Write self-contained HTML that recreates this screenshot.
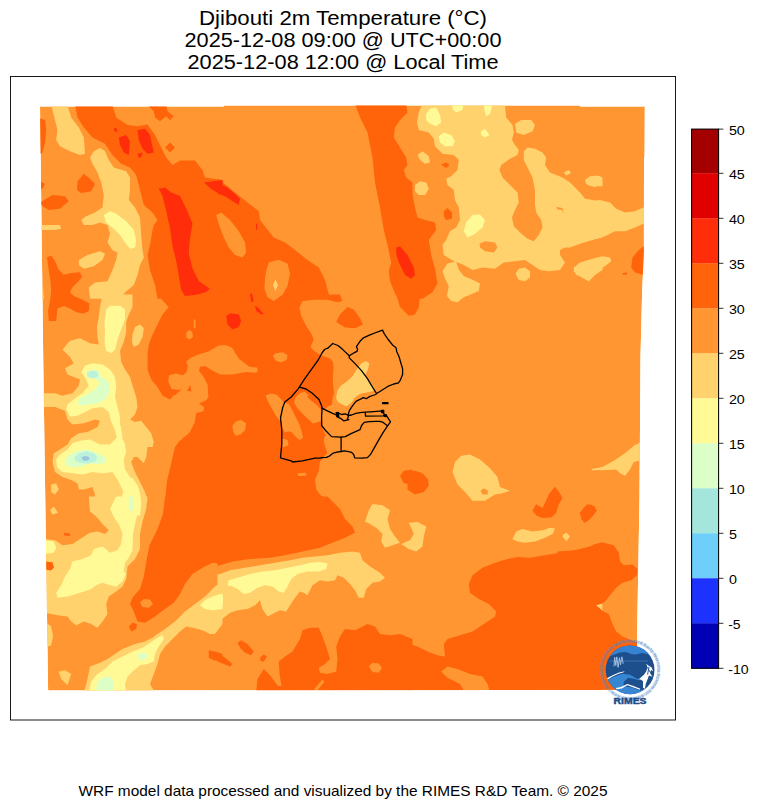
<!DOCTYPE html>
<html><head><meta charset="utf-8"><title>Djibouti 2m Temperature</title>
<style>
html,body{margin:0;padding:0;background:#fff;}
body{width:760px;height:808px;overflow:hidden;font-family:"Liberation Sans",sans-serif;}
svg{display:block;}
.t{font-family:"Liberation Sans",sans-serif;fill:#000;}
</style></head><body>
<svg width="760" height="808" viewBox="0 0 760 808">
<rect width="760" height="808" fill="#fff"/>
<defs><clipPath id="q"><path d="M40.00 106.40 L223.50 106.40 L224.50 105.60 L579.50 105.60 L580.50 106.50 L644.80 106.50 L644.60 157.00 L644.00 158.00 L643.90 250.00 L642.00 297.00 L640.50 356.00 L639.50 499.00 L637.00 640.00 L637.00 689.80 L48.10 690.50 L43.50 380.00Z"/></clipPath></defs>
<g clip-path="url(#q)" shape-rendering="geometricPrecision">
<path d="M40.00 106.40 L223.50 106.40 L224.50 105.60 L579.50 105.60 L580.50 106.50 L644.80 106.50 L644.60 157.00 L644.00 158.00 L643.90 250.00 L642.00 297.00 L640.50 356.00 L639.50 499.00 L637.00 640.00 L637.00 689.80 L48.10 690.50 L43.50 380.00Z" fill="#ff9632"/>
<path d="M75.0 105.0 L112.5 105.0 L116.2 117.5 L127.5 125.0 L137.5 126.2 L147.5 124.5 L155.0 135.0 L160.0 145.0 L166.2 157.5 L172.5 165.0 L180.0 160.5 L195.0 160.5 L202.5 170.0 L205.0 177.5 L222.5 180.0 L222.5 298.8 L157.5 298.8 L155.0 285.0 L150.0 270.0 L147.5 255.0 L150.0 245.0 L152.5 230.0 L153.8 225.0 L157.5 220.0 L152.5 212.5 L143.8 205.0 L140.0 190.0 L136.2 175.0 L130.0 167.5 L121.2 163.8 L112.5 155.0 L105.0 143.8 L92.5 137.5 L83.8 127.5 L77.5 117.5Z" fill="#ff640a"/>
<path d="M147.5 105.0 L166.2 105.0 L167.5 111.2 L173.8 116.2 L170.0 120.0 L166.2 116.2 L160.0 121.2 L155.0 117.5 L153.8 111.2Z" fill="#ff640a"/>
<path d="M165.0 147.5 L170.0 142.5 L175.0 147.5 L170.0 152.5Z" fill="#ff640a"/>
<path d="M37.5 117.5 L45.0 120.0 L46.2 130.0 L45.0 142.5 L42.5 152.5 L37.5 156.2Z" fill="#ff640a"/>
<path d="M77.5 181.2 L83.8 173.8 L90.0 178.8 L95.0 183.8 L91.2 191.2 L81.2 193.0 L77.0 190.0Z" fill="#ff640a"/>
<path d="M40.0 202.5 L52.5 195.0 L65.0 196.2 L68.8 201.2 L60.0 208.8 L48.8 210.0 L42.5 206.2Z" fill="#ff640a"/>
<path d="M40.0 181.2 L45.0 183.8 L42.5 188.8 L40.0 188.8Z" fill="#ff640a"/>
<path d="M47.0 257.2 L51.2 255.5 L55.0 261.0 L58.8 269.8 L63.8 274.8 L71.2 273.0 L80.0 272.2 L82.0 277.2 L77.5 282.2 L72.5 287.2 L70.0 292.2 L73.8 296.0 L82.5 299.8 L89.5 303.5 L88.8 311.0 L83.8 313.5 L76.2 312.2 L70.0 308.5 L63.8 306.0 L57.5 308.5 L56.2 321.0 L48.8 321.0 L48.0 311.0 L50.0 301.0 L51.2 291.0 L50.5 281.0 L48.8 271.0Z" fill="#ff640a"/>
<path d="M217.5 178.8 L220.0 180.0 L235.0 192.5 L247.5 202.5 L258.8 211.2 L260.0 220.0 L273.8 237.5 L285.0 242.5 L295.0 250.0 L307.5 260.0 L318.8 267.5 L325.0 280.0 L330.0 298.8 L217.5 298.8Z" fill="#ff640a"/>
<path d="M355.0 103.8 L406.2 103.8 L407.5 112.5 L400.0 120.0 L395.0 127.5 L393.8 137.5 L400.0 147.5 L406.2 157.5 L407.5 165.0 L403.8 170.0 L406.2 177.5 L412.5 182.5 L412.5 298.8 L398.8 298.8 L395.0 293.5 L390.0 281.0 L388.8 271.0 L391.2 262.5 L387.5 245.0 L383.8 230.0 L380.0 207.5 L375.0 182.5 L372.5 157.5 L367.5 132.5 L360.0 117.5Z" fill="#ff640a"/>
<path d="M407.5 182.5 L410.0 183.8 L412.5 195.0 L415.0 207.5 L417.5 217.5 L425.0 220.0 L435.0 222.5 L436.2 230.0 L428.8 240.0 L431.2 255.0 L435.0 268.5 L437.5 283.5 L432.5 292.2 L422.5 298.8 L407.5 298.8Z" fill="#ff640a"/>
<path d="M441.2 164.5 L446.2 162.5 L449.5 165.0 L446.2 168.0Z" fill="#ff640a"/>
<path d="M443.8 211.2 L447.5 208.0 L452.0 212.5 L452.0 218.8 L446.2 220.0 L443.8 216.2Z" fill="#ff640a"/>
<path d="M646.2 245.0 L643.8 246.2 L638.8 250.0 L632.5 257.5 L631.2 267.5 L635.0 272.5 L643.8 275.0 L646.2 275.0Z" fill="#ff640a"/>
<path d="M622.5 273.0 L627.0 272.5 L627.0 274.5 L623.0 274.8Z" fill="#ff640a"/>
<path d="M157.5 294.5 L166.2 304.5 L168.8 307.0 L162.5 314.5 L157.5 324.5 L152.5 334.5 L148.8 344.5 L147.5 354.5 L147.5 369.5 L151.2 379.5 L157.5 387.0 L162.5 395.8 L170.0 399.5 L174.2 395.0 L196.4 412.1 L194.7 422.4 L189.6 432.6 L179.3 441.2 L175.0 447.0 L171.2 463.2 L167.0 480.8 L165.0 500.8 L222.5 500.8 L222.5 294.5Z" fill="#ff640a"/>
<path d="M217.5 294.5 L340.0 294.5 L342.5 301.0 L337.5 302.2 L327.5 299.8 L315.0 299.8 L302.5 301.0 L299.5 307.2 L301.2 316.0 L306.2 326.0 L311.2 333.5 L313.8 339.5 L311.0 345.8 L311.0 347.4 L313.8 350.6 L317.4 353.0 L322.1 356.1 L326.1 356.9 L330.0 358.5 L332.8 361.7 L333.6 366.4 L333.2 372.8 L332.8 379.1 L333.2 385.4 L334.0 394.0 L332.7 397.5 L331.8 404.9 L327.2 406.7 L325.4 408.6 L323.5 412.3 L322.6 419.6 L322.6 428.9 L325.4 435.3 L323.5 439.9 L325.4 447.3 L327.2 452.8 L323.5 457.5 L319.8 462.1 L318.9 470.4 L315.0 479.5 L316.2 489.5 L321.2 495.8 L330.0 500.8 L217.5 500.8Z" fill="#ff640a"/>
<path d="M336.2 322.0 L340.0 314.5 L347.5 307.0 L353.8 309.5 L360.0 318.2 L363.0 324.5 L355.0 328.2 L345.0 327.5Z" fill="#ff640a"/>
<path d="M396.2 294.5 L400.0 307.0 L406.2 313.2 L412.5 315.8 L412.5 294.5Z" fill="#ff640a"/>
<path d="M400.0 475.8 L403.8 470.8 L412.5 469.5 L412.5 484.5 L403.8 483.2Z" fill="#ff640a"/>
<path d="M407.5 294.5 L420.0 294.5 L418.8 307.0 L415.0 314.5 L407.5 315.8Z" fill="#ff640a"/>
<path d="M407.5 472.0 L415.0 470.8 L422.5 473.2 L428.0 479.5 L428.8 485.8 L423.8 492.0 L415.0 494.5 L407.5 489.5Z" fill="#ff640a"/>
<path d="M532.5 510.5 L536.2 504.2 L542.5 508.0 L546.2 500.5 L548.8 494.2 L555.0 486.8 L558.8 491.8 L562.5 498.0 L558.8 504.2 L556.2 513.0 L551.2 517.5 L542.5 518.0 L536.2 515.5Z" fill="#ff640a"/>
<path d="M165.0 496.5 L163.0 514.0 L157.0 530.2 L149.5 545.2 L146.5 560.2 L143.8 576.5 L140.0 589.0 L132.5 597.8 L130.0 604.0 L133.8 611.5 L137.5 621.5 L145.0 622.8 L155.0 616.5 L165.0 609.0 L173.8 602.8 L180.0 594.0 L185.0 584.0 L192.5 574.0 L202.5 567.8 L212.5 562.8 L222.5 564.5 L222.5 496.5Z" fill="#ff640a"/>
<path d="M128.8 626.5 L132.5 622.8 L137.0 624.0 L136.2 629.0 L131.2 631.5Z" fill="#ff640a"/>
<path d="M63.8 532.8 L70.0 533.5 L70.0 536.0 L64.5 535.5Z" fill="#ff640a"/>
<path d="M208.8 650.2 L215.0 651.5 L222.5 654.0 L222.5 661.5 L213.8 660.2 L208.8 657.8Z" fill="#ff640a"/>
<path d="M217.5 566.0 L220.0 565.2 L232.5 561.5 L250.0 559.0 L270.0 557.8 L285.0 555.2 L302.5 551.5 L320.0 547.8 L332.5 542.8 L345.0 537.8 L355.0 532.8 L352.5 526.5 L345.0 519.0 L340.0 509.0 L332.5 501.5 L327.5 496.5 L217.5 496.5Z" fill="#ff640a"/>
<path d="M256.2 691.5 L257.5 679.0 L263.8 669.0 L270.0 675.2 L278.0 686.0 L281.5 686.0 L279.5 674.0 L278.8 661.5 L285.0 656.5 L292.5 651.5 L300.0 639.0 L302.5 630.2 L310.0 627.8 L318.8 627.8 L322.5 636.5 L326.2 646.5 L330.0 659.0 L325.0 664.0 L318.8 667.8 L320.0 672.8 L327.5 674.0 L336.2 671.5 L337.5 659.0 L336.2 646.5 L340.0 636.5 L345.0 629.0 L355.0 630.2 L362.5 626.5 L367.5 624.0 L375.0 626.5 L380.0 634.0 L390.0 635.2 L400.0 634.0 L412.5 639.0 L412.5 691.5Z" fill="#ff640a"/>
<path d="M237.5 642.8 L241.2 640.2 L247.5 644.0 L253.8 651.5 L251.2 655.2 L245.0 652.8 L240.0 647.8Z" fill="#ff640a"/>
<path d="M260.0 657.8 L263.8 654.5 L267.0 656.5 L263.8 661.5 L260.5 661.0Z" fill="#ff640a"/>
<path d="M217.5 652.8 L220.0 654.0 L225.0 657.8 L232.5 664.0 L230.0 666.5 L223.8 664.0 L217.5 661.5Z" fill="#ff640a"/>
<path d="M580.0 512.8 L587.5 504.0 L595.0 506.5 L596.2 511.5 L590.0 519.0 L583.8 522.8Z" fill="#ff640a"/>
<path d="M602.5 542.0 L590.0 546.5 L575.0 550.2 L560.0 552.8 L545.0 555.2 L530.0 557.8 L517.5 557.0 L507.5 559.0 L495.0 562.8 L482.5 567.8 L472.5 575.2 L468.8 584.0 L470.0 592.8 L478.8 599.0 L488.8 604.0 L496.2 611.5 L495.0 616.5 L487.5 621.5 L480.0 626.5 L472.5 631.5 L460.0 635.2 L447.5 639.0 L443.8 644.0 L445.0 656.5 L437.5 655.2 L427.5 651.5 L417.5 646.5 L407.5 643.5 L407.5 692.8 L602.5 692.8Z" fill="#ff640a"/>
<path d="M557.5 551.5 L575.0 550.2 L587.5 547.8 L595.0 544.0 L603.8 542.8 L613.8 545.2 L618.8 552.8 L620.0 561.5 L623.8 565.2 L632.5 564.5 L637.5 569.0 L637.0 575.2 L631.2 580.2 L622.5 582.8 L616.2 587.8 L610.0 595.2 L605.0 601.5 L597.5 605.2 L595.0 607.8 L601.2 610.2 L608.8 614.0 L612.5 624.0 L616.2 631.5 L622.5 636.5 L631.2 640.2 L642.5 644.0 L642.5 692.8 L557.5 692.8Z" fill="#ff640a"/>
<path d="M580.0 512.8 L585.0 506.5 L591.2 504.5 L597.0 510.2 L591.2 517.8 L585.0 522.8 L581.2 519.0Z" fill="#ff640a"/>
<path d="M118.8 137.5 L126.2 135.0 L130.0 141.2 L128.8 155.0 L123.8 152.5 L120.0 145.0Z" fill="#ff2d0a"/>
<path d="M137.5 130.0 L145.0 128.8 L150.0 135.0 L153.8 152.5 L147.5 153.8 L142.5 148.8 L138.8 140.0Z" fill="#ff2d0a"/>
<path d="M137.5 153.8 L142.5 152.5 L141.2 157.5 L138.8 157.5Z" fill="#ff2d0a"/>
<path d="M113.8 128.8 L116.2 127.5 L117.5 131.2 L115.0 132.0Z" fill="#ff2d0a"/>
<path d="M158.8 188.8 L165.0 187.5 L171.2 192.5 L180.0 196.0 L186.2 208.5 L192.5 223.5 L190.0 238.5 L188.8 253.5 L192.5 268.5 L198.8 281.0 L210.0 289.0 L205.0 292.5 L195.0 295.0 L185.0 296.0 L181.2 289.8 L178.8 276.0 L176.2 261.0 L172.5 246.0 L170.0 228.5 L166.2 211.0 L162.5 196.0Z" fill="#ff2d0a"/>
<path d="M203.8 182.5 L222.5 180.0 L222.5 195.0 L212.5 190.0Z" fill="#ff2d0a"/>
<path d="M217.5 182.5 L220.0 183.8 L227.5 187.5 L235.0 193.8 L240.0 198.8 L238.8 205.0 L232.5 201.2 L225.0 196.2 L217.5 193.8Z" fill="#ff2d0a"/>
<path d="M256.0 223.8 L257.2 223.8 L257.2 230.0 L256.0 230.0Z" fill="#ff2d0a"/>
<path d="M396.2 247.5 L400.0 246.2 L407.5 255.0 L413.8 267.5 L415.0 275.0 L411.2 278.8 L405.0 275.0 L398.8 262.5 L396.2 253.8Z" fill="#ff2d0a"/>
<path d="M226.2 315.8 L231.2 313.2 L238.8 314.5 L241.2 320.8 L238.8 327.0 L232.5 329.5 L227.5 324.5Z" fill="#ff2d0a"/>
<path d="M250.0 294.0 L252.0 293.5 L253.8 301.0 L251.2 302.2Z" fill="#ff2d0a"/>
<path d="M255.0 305.8 L257.5 307.0 L263.8 314.0 L261.2 314.5 L256.2 310.8Z" fill="#ff2d0a"/>
<path d="M216.2 215.0 L221.2 212.5 L230.0 220.0 L238.8 231.2 L245.0 242.5 L246.2 252.5 L242.5 257.5 L235.0 255.0 L228.8 247.5 L223.8 237.5 L220.0 227.5 L217.5 220.0Z" fill="#ff9632"/>
<path d="M266.2 271.0 L268.8 262.2 L278.8 259.8 L287.5 263.5 L290.0 273.5 L287.5 286.0 L282.5 294.8 L273.8 301.0 L267.5 297.2 L264.5 288.5 L265.0 278.5Z" fill="#ff9632"/>
<path d="M168.2 381.3 L169.1 375.3 L175.9 373.6 L182.8 375.3 L186.2 372.8 L187.9 366.8 L186.2 361.6 L191.3 357.4 L199.9 353.9 L208.4 351.4 L218.7 345.4 L225.5 345.1 L232.4 348.0 L235.8 353.9 L239.2 359.1 L249.5 366.8 L257.2 367.6 L257.7 371.1 L256.3 372.8 L246.1 371.9 L232.4 374.5 L220.4 374.5 L211.8 370.2 L205.0 365.9 L199.9 366.8 L199.0 371.1 L203.3 376.2 L207.6 384.7 L208.4 396.7 L206.7 400.1 L199.0 403.6 L204.1 407.0 L203.3 411.3 L196.4 413.0 L174.2 395.9 L181.9 389.0 L179.3 389.9 L171.6 389.0Z" fill="#ff9632"/>
<path d="M186.2 333.4 L188.8 330.0 L192.2 331.7 L193.0 336.8 L189.6 339.4 L186.5 337.7Z" fill="#ff9632"/>
<path d="M193.8 319.5 L195.5 319.5 L195.5 328.2 L193.8 328.2Z" fill="#ff9632"/>
<path d="M232.4 425.8 L235.8 421.5 L240.9 419.8 L246.1 423.2 L245.2 430.1 L240.9 434.3 L235.8 436.1 L233.2 431.8Z" fill="#ff9632"/>
<path d="M272.8 356.0 L275.5 353.2 L282.9 352.3 L287.5 355.1 L286.6 359.7 L281.1 362.4 L275.5 360.6Z" fill="#ff9632"/>
<path d="M294.1 402.5 L295.3 397.8 L300.0 393.3 L304.8 391.8 L308.6 395.2 L307.1 396.8 L310.9 400.4 L316.8 405.1 L320.9 409.4 L324.9 410.6 L324.9 420.3 L319.0 421.7 L313.1 423.4 L308.3 419.3 L302.4 413.4 L297.2 408.0Z" fill="#ff9632"/>
<path d="M265.7 395.4 L270.4 393.6 L276.3 394.5 L280.5 398.4 L284.0 402.5 L288.8 403.7 L292.0 409.6 L295.5 416.7 L299.1 423.8 L301.9 432.1 L303.1 438.1 L299.5 440.0 L296.0 437.1 L292.0 432.4 L288.4 431.2 L284.9 432.4 L282.3 428.0 L280.8 419.7 L279.3 420.3 L275.1 414.4 L270.4 406.1 L266.8 399.0Z" fill="#ff9632"/>
<path d="M281.4 438.1 L287.5 439.9 L288.5 445.5 L282.9 447.3 L281.1 445.5Z" fill="#ff9632"/>
<path d="M297.5 473.2 L306.2 472.8 L306.2 475.8 L298.0 476.0Z" fill="#ff9632"/>
<path d="M140.0 602.8 L143.8 599.0 L150.0 599.5 L153.0 604.0 L148.8 607.8 L142.5 607.0Z" fill="#ff9632"/>
<path d="M368.8 666.5 L372.5 662.8 L378.8 663.5 L382.0 667.8 L378.8 672.8 L372.5 672.0Z" fill="#ff9632"/>
<path d="M313.8 689.5 L322.5 679.5 L324.5 681.5 L317.5 690.2Z" fill="#ff9632"/>
<path d="M441.2 671.5 L447.5 666.5 L457.5 669.0 L470.0 674.0 L482.5 676.5 L487.5 684.0 L490.0 692.8 L465.0 692.8 L460.0 684.0 L447.5 677.8Z" fill="#ff9632"/>
<path d="M51.2 105.0 L67.5 105.0 L71.2 117.5 L78.8 127.5 L83.8 137.5 L85.0 153.8 L80.0 155.0 L70.0 151.2 L60.0 146.2 L56.2 140.0 L57.5 130.0 L55.0 120.0Z" fill="#ffd26e"/>
<path d="M90.0 157.5 L93.8 151.2 L100.0 148.0 L105.0 151.2 L108.8 160.0 L113.8 167.5 L126.2 171.2 L130.0 177.5 L130.0 190.0 L128.8 200.0 L135.0 207.5 L140.0 217.5 L141.2 235.0 L142.5 250.0 L143.8 257.5 L140.0 265.0 L137.5 275.0 L133.8 285.0 L125.0 292.5 L120.0 298.8 L90.0 298.8 L88.8 287.5 L95.0 282.5 L107.5 281.2 L112.5 270.0 L116.2 260.0 L117.5 252.5 L112.5 250.0 L107.5 242.5 L110.0 233.8 L107.5 225.0 L100.0 222.5 L92.5 225.0 L83.8 225.0 L81.2 220.0 L86.2 216.2 L95.0 212.5 L102.5 207.5 L103.8 195.0 L101.2 182.5 L97.5 172.5 L92.5 163.8Z" fill="#ffd26e"/>
<path d="M78.8 260.0 L87.5 255.0 L100.0 251.2 L105.0 253.8 L102.5 260.0 L93.8 266.2 L83.8 268.8 L78.8 265.0Z" fill="#ffd26e"/>
<path d="M40.0 225.0 L60.0 225.0 L61.2 228.8 L55.0 230.0 L40.0 230.0Z" fill="#ffd26e"/>
<path d="M37.5 285.0 L43.0 286.2 L43.8 298.8 L37.5 298.8Z" fill="#ffd26e"/>
<path d="M273.0 285.0 L275.5 279.5 L278.0 285.0 L275.5 291.2Z" fill="#ffd26e"/>
<path d="M422.5 103.8 L505.0 103.8 L505.0 105.8 L506.2 117.5 L512.5 125.0 L513.8 132.5 L512.0 140.0 L515.0 145.0 L518.8 150.0 L517.5 155.0 L510.0 158.8 L501.2 165.0 L499.5 170.0 L502.5 177.5 L510.0 185.0 L517.5 192.5 L518.8 202.5 L515.0 210.0 L512.0 217.5 L513.8 226.2 L520.0 232.5 L527.5 238.8 L533.8 241.2 L538.8 235.0 L542.5 227.5 L541.2 220.0 L536.2 212.5 L535.0 205.0 L535.0 190.0 L532.5 177.5 L527.5 167.5 L523.8 160.0 L523.8 151.2 L527.5 147.5 L535.0 148.8 L542.5 152.5 L546.2 157.5 L545.0 165.0 L550.0 172.5 L562.5 177.5 L570.0 182.5 L575.0 187.5 L580.0 192.5 L585.0 198.8 L592.5 200.0 L602.5 202.5 L602.5 237.5 L590.0 240.0 L580.0 241.2 L570.0 245.0 L560.0 250.0 L560.0 255.0 L565.0 262.5 L560.0 270.0 L548.8 271.2 L540.0 270.0 L532.5 265.0 L525.0 260.0 L515.0 261.2 L503.8 262.5 L495.0 268.8 L482.5 267.5 L472.5 270.0 L463.8 265.0 L457.5 262.5 L453.8 261.2 L443.8 255.0 L442.5 245.0 L446.2 240.0 L450.0 231.2 L456.2 227.5 L460.0 220.0 L458.8 207.5 L455.0 200.0 L453.8 190.0 L447.5 185.0 L446.2 178.8 L451.2 176.2 L457.5 170.0 L458.8 160.0 L453.8 155.0 L442.5 153.8 L435.0 146.2 L433.8 138.8 L428.8 132.5 L418.8 130.0 L417.0 122.5 L418.8 112.5Z" fill="#ffd26e"/>
<path d="M515.0 123.8 L521.2 120.0 L531.2 120.0 L535.0 125.0 L532.5 131.2 L523.8 135.0 L516.2 132.5Z" fill="#ffd26e"/>
<path d="M563.8 172.5 L568.8 170.0 L571.2 173.0 L566.2 175.5Z" fill="#ffd26e"/>
<path d="M585.0 180.0 L592.5 176.2 L600.0 176.2 L602.5 177.5 L602.5 186.2 L592.5 186.2 L586.2 183.8Z" fill="#ffd26e"/>
<path d="M417.5 155.0 L422.5 151.2 L428.8 156.2 L430.0 162.5 L425.0 163.8 L420.0 160.0Z" fill="#ffd26e"/>
<path d="M415.0 185.0 L420.0 181.2 L426.2 182.5 L428.8 188.8 L425.0 195.0 L418.8 195.0 L415.0 191.2Z" fill="#ffd26e"/>
<path d="M442.5 271.0 L447.5 263.5 L456.2 261.5 L458.8 269.8 L463.8 276.0 L472.5 279.8 L480.0 283.5 L478.8 291.0 L470.0 294.8 L463.8 297.2 L457.5 302.2 L451.2 301.0 L447.0 296.0 L448.8 286.0 L445.0 278.5Z" fill="#ffd26e"/>
<path d="M573.8 270.0 L580.0 263.8 L590.0 260.0 L600.0 257.5 L602.5 257.5 L602.5 270.0 L595.0 275.0 L588.8 281.2 L582.5 276.2 L576.2 275.0Z" fill="#ffd26e"/>
<path d="M515.5 273.8 L518.8 268.8 L525.0 267.5 L530.0 271.2 L530.0 277.5 L525.0 281.2 L518.8 280.0Z" fill="#ffd26e"/>
<path d="M557.5 180.0 L565.0 182.5 L572.5 185.0 L577.5 191.2 L582.5 198.8 L590.0 201.2 L600.0 200.0 L610.0 202.5 L616.2 208.8 L625.0 212.5 L635.0 211.2 L646.2 206.2 L646.2 222.5 L635.0 227.5 L625.0 231.2 L615.0 231.2 L605.0 236.2 L592.5 240.0 L580.0 243.8 L570.0 247.5 L557.5 247.5Z" fill="#ffd26e"/>
<path d="M585.0 180.0 L590.0 176.2 L597.5 175.5 L602.0 178.8 L601.2 183.8 L595.0 187.0 L587.5 185.0Z" fill="#ffd26e"/>
<path d="M573.8 267.5 L580.0 262.5 L592.5 258.8 L602.5 256.2 L610.0 257.5 L611.2 261.2 L605.0 266.2 L597.5 270.0 L592.5 276.2 L588.8 281.2 L583.8 278.8 L577.5 275.0 L573.8 271.2Z" fill="#ffd26e"/>
<path d="M187.0 390.7 L190.5 384.7 L191.3 391.6Z" fill="#ff640a"/>
<path d="M102.5 294.5 L100.0 307.0 L98.8 317.0 L97.0 327.0 L97.5 337.0 L98.8 344.5 L90.0 343.2 L80.0 338.2 L70.0 340.8 L62.5 349.5 L70.0 357.0 L73.8 363.2 L65.0 368.2 L67.5 374.5 L80.0 379.5 L78.8 385.8 L72.5 393.2 L62.5 395.8 L55.0 393.2 L40.0 393.2 L40.0 407.0 L55.0 407.0 L65.0 410.8 L67.5 419.5 L72.5 424.5 L83.8 423.2 L95.0 419.5 L100.0 420.8 L97.5 427.0 L87.5 432.0 L78.8 433.2 L71.2 438.2 L67.5 444.5 L60.0 449.5 L53.8 453.2 L52.5 462.0 L55.0 472.0 L62.5 477.0 L70.0 479.5 L77.5 483.2 L78.8 489.5 L83.8 489.5 L92.5 487.0 L95.0 494.5 L93.8 500.8 L147.5 500.8 L145.0 492.0 L140.0 482.0 L135.0 472.0 L131.2 462.0 L133.8 457.0 L137.5 457.0 L143.8 463.2 L146.2 457.0 L147.5 447.0 L152.5 447.0 L153.8 442.0 L151.2 433.2 L146.2 427.0 L141.2 420.8 L135.0 422.0 L130.0 419.5 L135.0 414.5 L137.5 407.0 L136.2 397.0 L132.5 385.8 L130.0 377.0 L125.0 369.5 L121.2 362.0 L120.0 350.8 L123.8 342.0 L126.2 332.0 L126.2 322.0 L128.8 314.5 L132.5 307.0 L132.5 294.5Z" fill="#ffd26e"/>
<path d="M132.5 334.5 L135.0 327.0 L140.0 324.5 L143.8 328.2 L142.5 337.0 L138.8 344.5 L133.8 347.0 L132.0 342.0Z" fill="#ffd26e"/>
<path d="M51.2 484.5 L56.2 483.2 L58.8 489.5 L55.0 494.5 L51.2 492.0Z" fill="#ffd26e"/>
<path d="M336.1 397.5 L337.3 391.0 L341.0 385.5 L347.5 380.9 L353.0 375.4 L357.6 368.0 L361.3 363.4 L365.9 361.0 L369.3 363.4 L367.8 369.8 L365.0 375.4 L369.6 380.9 L374.2 387.3 L373.3 391.0 L367.8 392.3 L360.4 393.8 L354.9 397.5 L351.2 403.0 L346.6 406.3 L341.0 403.9 L337.3 401.2Z" fill="#ffd26e"/>
<path d="M452.5 472.0 L455.0 462.0 L461.2 455.8 L470.0 454.5 L480.0 459.5 L490.0 468.2 L497.5 477.0 L500.0 487.0 L510.0 490.8 L502.5 493.2 L495.0 494.5 L485.0 500.8 L472.5 500.8 L465.0 492.0 L457.5 484.5Z" fill="#ffd26e"/>
<path d="M591.2 469.0 L602.5 467.5 L602.5 470.0 L592.5 470.2Z" fill="#ffd26e"/>
<path d="M591.2 469.5 L602.5 467.0 L613.8 460.8 L625.0 453.2 L633.8 445.8 L643.8 440.8 L643.8 459.5 L633.8 462.0 L630.0 469.5 L625.0 475.8 L620.0 473.2 L616.2 469.5 L602.5 470.2Z" fill="#ffd26e"/>
<path d="M88.8 496.5 L147.5 496.5 L146.2 509.0 L142.5 521.5 L140.0 534.0 L140.0 549.0 L135.0 559.0 L127.5 566.5 L126.2 579.0 L122.5 586.5 L116.2 591.5 L108.8 596.5 L106.2 604.0 L107.5 614.0 L102.5 621.5 L97.5 627.8 L91.2 624.0 L83.8 621.5 L76.2 625.2 L71.2 621.5 L67.5 616.5 L57.5 615.2 L45.0 612.8 L45.0 539.0 L55.0 540.2 L62.5 545.2 L72.5 544.0 L80.0 539.0 L90.0 532.8 L97.5 531.5 L105.0 534.0 L108.8 530.2 L102.5 524.0 L96.2 516.5 L90.0 511.5Z" fill="#ffd26e"/>
<path d="M83.8 692.8 L87.5 679.0 L90.0 666.5 L100.0 662.8 L107.5 659.0 L115.0 654.0 L122.5 649.0 L135.0 644.0 L145.0 641.5 L152.5 637.8 L157.5 634.0 L165.0 629.0 L175.0 621.5 L185.0 611.5 L195.0 604.0 L205.0 596.5 L215.0 586.5 L222.5 581.5 L222.5 624.0 L215.0 634.0 L210.0 634.0 L202.5 630.2 L192.5 627.8 L186.2 626.5 L180.0 631.5 L172.5 639.0 L165.0 646.5 L160.0 654.0 L157.5 664.0 L153.8 674.0 L150.0 684.0 L155.0 692.8Z" fill="#ffd26e"/>
<path d="M45.0 621.5 L51.2 626.5 L53.0 636.5 L51.2 645.2 L45.0 647.8Z" fill="#ffd26e"/>
<path d="M58.8 671.5 L65.0 670.2 L71.2 674.0 L67.5 685.2 L61.2 679.0Z" fill="#ffd26e"/>
<path d="M50.0 510.2 L53.8 506.5 L58.0 512.8 L52.5 514.5Z" fill="#ffd26e"/>
<path d="M217.5 574.5 L220.0 574.0 L230.0 570.2 L245.0 567.8 L260.0 565.2 L275.0 562.8 L290.0 560.2 L302.5 557.8 L315.0 556.5 L327.5 555.2 L340.0 552.8 L352.5 551.5 L360.0 552.8 L362.5 560.2 L370.0 566.5 L380.0 572.8 L385.0 577.8 L380.0 581.5 L372.5 582.8 L366.2 589.0 L363.8 597.8 L358.8 597.8 L355.0 590.2 L350.0 584.0 L343.8 577.8 L337.5 575.2 L335.0 580.2 L327.5 581.5 L320.0 580.2 L312.5 585.2 L307.5 595.2 L303.8 592.8 L300.0 591.5 L295.0 597.8 L290.0 605.2 L286.2 611.5 L280.0 610.2 L272.5 614.0 L267.5 616.5 L262.5 609.0 L260.0 600.2 L255.0 605.2 L247.5 609.0 L237.5 610.2 L230.0 612.8 L223.8 617.8 L217.5 622.0Z" fill="#ffd26e"/>
<path d="M365.0 521.5 L368.8 510.2 L372.5 504.0 L382.5 505.2 L390.0 510.2 L387.5 519.0 L390.0 529.0 L395.0 536.5 L400.0 542.8 L392.5 545.2 L385.0 547.8 L381.2 541.5 L382.5 534.0 L376.2 527.8 L370.0 524.0Z" fill="#ffd26e"/>
<path d="M596.2 605.2 L602.5 603.5 L602.5 610.8Z" fill="#ffd26e"/>
<path d="M512.5 539.0 L516.2 531.5 L522.5 529.0 L532.5 531.5 L542.5 530.2 L550.0 527.8 L555.0 528.5 L552.5 534.0 L545.0 537.8 L535.0 541.5 L525.0 542.8 L517.5 541.5Z" fill="#ffd26e"/>
<path d="M562.5 535.2 L566.2 532.8 L570.0 536.5 L566.2 541.0Z" fill="#ffd26e"/>
<path d="M562.5 536.5 L566.2 532.8 L570.0 536.5 L566.2 541.0Z" fill="#ffd26e"/>
<path d="M408.8 522.8 L417.5 522.0 L426.2 526.5 L423.8 536.5 L422.5 546.5 L416.2 551.5 L408.8 549.0 L401.2 544.0 L410.0 540.2 L413.8 534.0 L411.2 527.8Z" fill="#ffd26e"/>
<path d="M479.5 243.8 L485.0 241.2 L495.0 242.5 L497.5 247.5 L493.8 252.5 L485.0 251.2 L480.0 247.5Z" fill="#ff9632"/>
<path d="M556.2 207.0 L562.5 208.0 L563.8 213.8 L562.0 210.0 L557.5 209.5Z" fill="#ff9632"/>
<path d="M480.5 490.8 L483.8 488.2 L488.0 490.8 L487.5 494.5 L482.5 494.5Z" fill="#ff9632"/>
<path d="M45.0 561.5 L52.5 562.2 L54.0 567.5 L51.0 570.5 L45.0 569.5Z" fill="#ff640a"/>
<path d="M103.8 215.0 L110.0 211.2 L116.2 213.8 L126.2 221.2 L133.8 230.0 L136.2 240.0 L135.0 247.5 L130.0 248.8 L125.0 242.5 L120.0 235.0 L113.8 228.8 L106.2 222.5Z" fill="#fffa96"/>
<path d="M426.2 113.8 L430.0 108.8 L436.2 107.5 L440.0 115.0 L441.2 122.5 L436.2 126.2 L430.0 123.8 L426.2 120.0Z" fill="#fffa96"/>
<path d="M438.8 136.2 L443.8 132.5 L451.2 135.0 L455.0 141.2 L452.5 146.2 L445.0 146.2 L440.0 142.5Z" fill="#fffa96"/>
<path d="M452.5 103.8 L463.8 103.8 L462.5 110.0 L456.2 112.5 L452.5 108.8Z" fill="#fffa96"/>
<path d="M483.8 103.8 L492.5 103.8 L490.0 113.8 L486.2 116.2 L484.5 110.0Z" fill="#fffa96"/>
<path d="M481.2 131.2 L485.0 128.8 L489.5 135.0 L485.0 137.5 L480.8 135.0Z" fill="#fffa96"/>
<path d="M463.8 231.2 L466.2 222.5 L472.5 215.0 L480.0 214.5 L485.0 220.0 L482.5 227.5 L475.0 233.8 L467.5 237.5Z" fill="#fffa96"/>
<path d="M106.2 309.5 L110.0 305.8 L120.0 305.8 L125.0 309.5 L125.0 319.5 L121.2 329.5 L117.5 339.5 L115.0 349.5 L111.2 353.2 L106.2 350.8 L104.5 342.0 L105.0 332.0 L104.5 322.0Z" fill="#fffa96"/>
<path d="M81.2 372.0 L85.0 365.8 L92.5 363.2 L102.5 364.5 L110.0 369.5 L115.0 377.0 L116.2 387.0 L115.0 397.0 L117.5 407.0 L120.0 417.0 L120.0 427.0 L115.0 429.5 L111.2 422.0 L108.8 412.0 L102.5 407.0 L92.5 408.2 L85.0 412.0 L77.5 415.8 L70.0 416.5 L66.2 409.5 L67.5 404.5 L75.0 398.2 L82.5 393.2 L88.8 385.8 L86.2 379.5Z" fill="#fffa96"/>
<path d="M56.2 459.5 L60.0 454.5 L67.5 449.5 L72.5 443.2 L80.0 440.8 L90.0 439.5 L100.0 444.5 L110.0 444.5 L117.5 437.0 L121.2 435.8 L125.0 444.5 L126.2 452.0 L123.8 459.5 L125.0 469.5 L130.0 477.0 L135.0 487.0 L137.5 500.8 L127.5 500.8 L122.5 489.5 L117.5 479.5 L112.5 472.0 L102.5 473.2 L92.5 472.0 L82.5 474.5 L72.5 473.2 L62.5 472.0 L57.0 467.0Z" fill="#fffa96"/>
<path d="M116.2 496.5 L140.0 496.5 L138.8 509.0 L135.5 521.5 L133.0 534.0 L132.5 550.2 L128.8 557.8 L125.0 562.8 L123.8 571.5 L126.2 574.0 L122.5 581.5 L116.2 586.5 L110.0 585.2 L102.5 582.8 L96.2 585.2 L91.2 589.0 L80.0 592.8 L67.5 596.5 L57.5 597.8 L56.2 592.8 L61.2 585.2 L65.0 576.5 L70.0 569.0 L72.5 561.5 L82.5 559.0 L91.2 555.2 L93.8 549.0 L102.5 546.5 L110.0 552.8 L117.5 550.2 L121.2 544.0 L122.5 534.0 L118.8 524.0 L113.8 516.5 L110.0 509.0Z" fill="#fffa96"/>
<path d="M45.0 540.2 L53.8 541.5 L56.2 547.8 L53.8 552.8 L45.0 554.0Z" fill="#fffa96"/>
<path d="M88.8 692.8 L91.2 681.5 L97.5 674.0 L105.0 669.0 L112.5 661.5 L122.5 656.5 L132.5 651.5 L142.5 647.8 L150.0 642.8 L157.5 637.8 L162.5 635.2 L163.8 639.0 L158.8 646.5 L155.0 654.0 L153.8 661.5 L147.5 664.0 L140.0 665.2 L132.5 671.5 L127.5 676.5 L125.0 684.0 L126.2 692.8Z" fill="#fffa96"/>
<path d="M200.0 605.2 L205.0 600.2 L212.5 596.5 L222.5 593.5 L222.5 609.0 L212.5 610.2 L205.0 609.0Z" fill="#fffa96"/>
<path d="M227.5 585.2 L228.8 580.2 L237.5 577.8 L250.0 574.0 L262.5 571.5 L275.0 570.2 L287.5 567.8 L300.0 565.2 L310.0 562.8 L320.0 562.0 L327.5 563.5 L326.2 569.0 L318.8 571.5 L307.5 571.5 L297.5 574.0 L291.2 579.0 L287.5 586.5 L283.8 592.8 L278.8 591.5 L272.5 586.5 L265.0 585.2 L257.5 587.8 L250.0 592.8 L243.8 594.0 L237.5 589.0 L232.5 586.5Z" fill="#fffa96"/>
<path d="M217.5 594.5 L223.0 596.5 L223.0 604.0 L217.5 607.0Z" fill="#fffa96"/>
<path d="M116.2 475.5 L132.5 478.0 L137.5 485.5 L140.0 493.0 L141.2 503.0 L140.0 515.5 L122.5 515.5 L117.5 523.0 L113.8 516.8 L111.2 509.2 L115.0 503.0 L121.2 498.0 L123.8 490.5 L121.2 483.0Z" fill="#fffa96"/>
<path d="M113.8 425.0 L120.5 425.0 L122.5 437.5 L117.0 439.0Z" fill="#fffa96"/>
<path d="M87.5 373.2 L92.5 369.5 L98.8 370.8 L100.0 375.8 L105.0 379.5 L109.5 383.2 L108.8 393.2 L105.0 399.5 L97.5 403.2 L88.8 404.5 L81.2 405.8 L77.5 403.2 L80.0 398.2 L87.5 394.5 L95.0 389.5 L100.0 383.2 L95.0 378.2 L88.8 377.0Z" fill="#dcffc8"/>
<path d="M65.0 459.5 L70.0 454.5 L77.5 450.8 L87.5 449.5 L97.5 453.2 L105.0 457.0 L106.2 462.0 L100.0 464.5 L90.0 463.2 L80.0 467.0 L70.0 467.0 L65.0 464.5Z" fill="#dcffc8"/>
<path d="M128.8 496.5 L132.5 496.5 L133.0 509.0 L130.0 511.5 L128.8 506.5Z" fill="#dcffc8"/>
<path d="M137.5 655.2 L142.5 652.8 L147.5 654.0 L146.2 659.0 L140.0 660.2Z" fill="#dcffc8"/>
<path d="M96.2 692.8 L97.0 682.8 L102.5 677.8 L110.0 676.5 L113.8 681.5 L112.5 692.8Z" fill="#dcffc8"/>
<path d="M86.8 372.4 L91.1 370.6 L96.3 371.3 L98.9 374.5 L96.8 377.6 L91.6 378.4 L87.4 376.6Z" fill="#bcf2dc"/>
<path d="M74.2 457.1 L79.5 452.9 L86.8 451.3 L94.2 453.4 L97.4 457.6 L95.3 461.8 L87.9 463.4 L79.5 462.9 L75.3 460.8Z" fill="#bcf2dc"/>
<path d="M81.4 457.6 L84.2 456.1 L88.4 456.4 L89.8 458.4 L87.9 460.5 L83.5 460.8Z" fill="#9cc6de"/>
</g>
<path d="M320.0 458.2 L315.0 458.2 L302.5 460.8 L292.5 462.0 L291.2 460.8 L281.2 458.2 L280.5 457.5 L281.8 444.0 L281.8 429.8 L280.5 418.0 L282.8 407.2 L284.8 402.0 L291.2 397.0 L298.4 388.6 L303.9 379.9 L311.8 368.8 L318.2 360.0 L322.0 353.0 L324.5 349.5 L327.8 348.2 L332.7 343.5 L338.0 345.5 L342.8 349.6 L349.3 355.8 L353.4 353.2 L357.0 351.4 L357.6 349.0 L356.4 346.7 L358.8 343.1 L360.5 340.7 L363.5 337.8 L368.8 335.4 L374.8 333.0 L382.5 330.1 L384.2 333.6 L387.8 339.0 L392.5 344.9 L396.1 347.8 L396.7 351.4 L399.1 356.7 L400.8 362.7 L402.6 368.6 L402.6 374.5 L400.2 380.4 L398.5 382.8 L393.7 384.0 L389.0 385.8 L384.2 388.7 L379.5 391.7 L376.5 393.5 L375.8 394.5 L372.6 395.5 L369.5 396.6 L366.3 398.7 L363.2 397.6 L360.5 399.2 L356.8 400.8 L354.7 402.9 L351.6 407.1 L349.5 410.3 L347.9 415.5 L351.6 415.0 L355.8 413.4 L360.0 412.6 L365.3 412.2 L370.5 411.8 L376.8 411.3 L382.1 410.8 L383.2 412.9 L384.7 415.0 L386.8 416.1 L388.4 418.7 L390.5 421.8 L387.4 426.1 L383.2 432.4 L378.9 439.7 L374.7 447.1 L370.5 454.5 L367.4 457.6 L362.1 458.2 L354.7 457.8 L353.7 454.5 L351.6 452.4 L347.4 451.3 L344.2 450.8 L341.1 451.5 L336.8 452.2 L332.6 453.4 L329.5 456.1 L326.3 457.4 L322.1 457.6 L320.0 458.2Z" fill="none" stroke="#000" stroke-width="1.3" stroke-linejoin="round" stroke-linecap="round"/>
<path d="M349.3 355.8 L349.3 357.9 L355.8 364.4 L361.7 370.9 L367.1 378.1 L371.8 385.8 L376.5 393.5" fill="none" stroke="#000" stroke-width="1.3" stroke-linejoin="round" stroke-linecap="round"/>
<path d="M299.5 387.2 L306.0 389.0 L312.0 393.0 L319.0 399.5 L321.5 405.5 L322.1 408.2 L326.3 410.3 L331.6 412.9 L336.3 415.0" fill="none" stroke="#000" stroke-width="1.3" stroke-linejoin="round" stroke-linecap="round"/>
<path d="M322.1 408.2 L321.6 416.6 L321.6 425.5 L326.3 431.3 L331.6 436.6 L341.1 437.1 L345.3 436.6 L351.6 433.4 L360.0 429.7 L361.6 425.5 L364.2 422.4 L369.5 421.6 L375.8 421.3 L380.0 421.3 L383.2 422.4 L387.4 425.8" fill="none" stroke="#000" stroke-width="1.3" stroke-linejoin="round" stroke-linecap="round"/>
<path d="M341.1 437.1 L341.1 451.5" fill="none" stroke="#000" stroke-width="1.3" stroke-linejoin="round" stroke-linecap="round"/>
<path d="M365.3 412.4 L365.5 416.1 L383.2 415.8 L384.7 415.2" fill="none" stroke="#000" stroke-width="1.3" stroke-linejoin="round" stroke-linecap="round"/>
<path d="M336.3 412.9 L337.9 412.4 L338.9 413.4 L341.6 414.5 L345.3 413.9 L347.9 415.0 L348.4 416.6 L347.4 418.7 L348.9 419.7 L345.8 420.3 L343.7 420.8 L341.1 418.7 L338.9 417.6 L337.4 416.6 L336.8 415.0Z" fill="none" stroke="#000" stroke-width="1.3" stroke-linejoin="round" stroke-linecap="round"/>
<path d="M382.6 402.7 L387.9 402.7 L387.9 403.7 L382.6 403.7Z" fill="#000" stroke="#000" stroke-width="1.3" stroke-linejoin="round" stroke-linecap="round"/>
<path d="M381.6 410.3 L383.7 410.3 L383.7 412.6 L381.6 412.6Z" fill="#000" stroke="#000" stroke-width="1.3" stroke-linejoin="round" stroke-linecap="round"/>
<path d="M384.4 414.5 L386.5 414.9 L386.5 416.6 L384.4 416.4Z" fill="#000" stroke="#000" stroke-width="1.3" stroke-linejoin="round" stroke-linecap="round"/>
<path d="M336.3 412.6 L338.4 412.6 L338.7 416.6 L336.8 416.6Z" fill="#000" stroke="#000" stroke-width="1.3" stroke-linejoin="round" stroke-linecap="round"/>

<g transform="translate(596 636) scale(0.09211)">
<defs>
<clipPath id="lgc"><circle cx="370" cy="367" r="265"/></clipPath>
<path id="lgr" d="M370 667 A300 300 0 0 1 370 67 A300 300 0 0 1 370 667"/>
</defs>
<circle cx="370" cy="367" r="312" fill="none" stroke="#5d8fc6" stroke-width="34" stroke-opacity="0.28"/>
<text font-family="Liberation Sans, sans-serif" font-size="46" font-weight="bold" fill="#3f7fc6" fill-opacity="0.6" letter-spacing="3"><textPath href="#lgr" startOffset="0">and Asia · Regional Integrated Multi-Hazard Early Warning System for Africa</textPath></text>
<circle cx="370" cy="367" r="265" fill="#1d4f8c"/>
<g clip-path="url(#lgc)">
<path d="M90 90 L650 90 L650 250 L610 240 L560 195 L500 185 L430 200 L380 195 L330 175 L260 180 L200 200 L140 222 L90 240Z" fill="#3583d2"/>
<path d="M150 272 L560 272" stroke="#5e9ad6" stroke-width="5" fill="none"/>
<path d="M195 330 L203 232 L215 320 L226 226 L240 340 L255 236 L266 312 L281 226 L295 302" stroke="#b5cfee" stroke-width="9" fill="none" stroke-linejoin="round"/>
<path d="M100 490 L200 440 L290 410 L370 420 L430 455 L475 470 L440 505 L380 522 L330 532 L280 562 L230 572 L330 548 L400 562 L480 592 L560 560 L560 660 L100 660Z" fill="#3786d4"/>
<path d="M300 500 L350 452 L420 468 L490 488 L520 515 L522 575 L470 572 L400 542 L345 522 L300 545Z" fill="#1d4f8c"/>
<path d="M112 462 L180 425 L250 395 L312 382 L300 394 L240 413 L180 441 L125 476Z" fill="#fff"/>
<path d="M215 565 L270 555 L340 520 L400 540 L482 572 L476 583 L400 556 L340 536 L280 569 L225 579Z" fill="#fff"/>
<path d="M465 470 L520 420 L545 385 L560 340 L545 300 L572 322 L602 340 L622 382 L600 370 L585 400 L612 442 L575 430 L560 470 L540 520 L532 572 L510 562 L510 490 L490 476Z" fill="#fff"/>
<path d="M560 345 L590 395 M575 335 L560 420" stroke="#1d4f8c" stroke-width="10" fill="none"/>
</g>
<text x="370" y="735" text-anchor="middle" font-family="Liberation Sans, sans-serif" font-weight="bold" font-size="100" fill="#1b4a85" stroke="#1b4a85" stroke-width="5" textLength="358" lengthAdjust="spacingAndGlyphs">RIMES</text>
</g>

<rect x="10.5" y="76.5" width="665" height="643.5" fill="none" stroke="#000" stroke-width="0.9"/>
<rect x="691.5" y="129.10" width="27" height="44.50" fill="#a50000"/>
<rect x="691.5" y="173.30" width="27" height="45.30" fill="#e10000"/>
<rect x="691.5" y="218.30" width="27" height="45.30" fill="#ff2d0a"/>
<rect x="691.5" y="263.30" width="27" height="45.30" fill="#ff640a"/>
<rect x="691.5" y="308.30" width="27" height="45.30" fill="#ff9632"/>
<rect x="691.5" y="353.30" width="27" height="45.30" fill="#ffd26e"/>
<rect x="691.5" y="398.30" width="27" height="45.30" fill="#fffa96"/>
<rect x="691.5" y="443.30" width="27" height="45.30" fill="#dcffc8"/>
<rect x="691.5" y="488.30" width="27" height="45.30" fill="#a5e6dc"/>
<rect x="691.5" y="533.30" width="27" height="45.30" fill="#6ecffa"/>
<rect x="691.5" y="578.30" width="27" height="45.30" fill="#1e32ff"/>
<rect x="691.5" y="623.30" width="27" height="45.30" fill="#0000b4"/>
<rect x="691.6" y="129.10" width="27" height="539.20" fill="none" stroke="#000" stroke-width="1.05"/>
<line x1="718.5" x2="723.4" y1="129.10" y2="129.10" stroke="#000" stroke-width="0.8"/>
<text x="728.9" y="134.50" font-size="13.4" class="t" textLength="15.90" lengthAdjust="spacingAndGlyphs">50</text>
<line x1="718.5" x2="723.4" y1="173.30" y2="173.30" stroke="#000" stroke-width="0.8"/>
<text x="728.9" y="179.46" font-size="13.4" class="t" textLength="15.90" lengthAdjust="spacingAndGlyphs">45</text>
<line x1="718.5" x2="723.4" y1="218.30" y2="218.30" stroke="#000" stroke-width="0.8"/>
<text x="728.9" y="224.42" font-size="13.4" class="t" textLength="15.90" lengthAdjust="spacingAndGlyphs">40</text>
<line x1="718.5" x2="723.4" y1="263.30" y2="263.30" stroke="#000" stroke-width="0.8"/>
<text x="728.9" y="269.38" font-size="13.4" class="t" textLength="15.90" lengthAdjust="spacingAndGlyphs">35</text>
<line x1="718.5" x2="723.4" y1="308.30" y2="308.30" stroke="#000" stroke-width="0.8"/>
<text x="728.9" y="314.34" font-size="13.4" class="t" textLength="15.90" lengthAdjust="spacingAndGlyphs">30</text>
<line x1="718.5" x2="723.4" y1="353.30" y2="353.30" stroke="#000" stroke-width="0.8"/>
<text x="728.9" y="359.30" font-size="13.4" class="t" textLength="15.90" lengthAdjust="spacingAndGlyphs">25</text>
<line x1="718.5" x2="723.4" y1="398.30" y2="398.30" stroke="#000" stroke-width="0.8"/>
<text x="728.9" y="404.26" font-size="13.4" class="t" textLength="15.90" lengthAdjust="spacingAndGlyphs">20</text>
<line x1="718.5" x2="723.4" y1="443.30" y2="443.30" stroke="#000" stroke-width="0.8"/>
<text x="728.9" y="449.22" font-size="13.4" class="t" textLength="15.90" lengthAdjust="spacingAndGlyphs">15</text>
<line x1="718.5" x2="723.4" y1="488.30" y2="488.30" stroke="#000" stroke-width="0.8"/>
<text x="728.9" y="494.18" font-size="13.4" class="t" textLength="15.90" lengthAdjust="spacingAndGlyphs">10</text>
<line x1="718.5" x2="723.4" y1="533.30" y2="533.30" stroke="#000" stroke-width="0.8"/>
<text x="728.9" y="539.14" font-size="13.4" class="t" textLength="7.95" lengthAdjust="spacingAndGlyphs">5</text>
<line x1="718.5" x2="723.4" y1="578.30" y2="578.30" stroke="#000" stroke-width="0.8"/>
<text x="728.9" y="584.10" font-size="13.4" class="t" textLength="7.95" lengthAdjust="spacingAndGlyphs">0</text>
<line x1="718.5" x2="723.4" y1="623.30" y2="623.30" stroke="#000" stroke-width="0.8"/>
<text x="728.2" y="629.06" font-size="13.4" class="t" textLength="12.46" lengthAdjust="spacingAndGlyphs">-5</text>
<line x1="718.5" x2="723.4" y1="668.30" y2="668.30" stroke="#000" stroke-width="0.8"/>
<text x="728.2" y="674.02" font-size="13.4" class="t" textLength="20.41" lengthAdjust="spacingAndGlyphs">-10</text>
<text x="343" y="25" text-anchor="middle" font-size="19.4" class="t" textLength="288" lengthAdjust="spacingAndGlyphs">Djibouti 2m Temperature (°C)</text>
<text x="343" y="47" text-anchor="middle" font-size="19.4" class="t" textLength="317" lengthAdjust="spacingAndGlyphs">2025-12-08 09:00 @ UTC+00:00</text>
<text x="343" y="69" text-anchor="middle" font-size="19.4" class="t" textLength="311" lengthAdjust="spacingAndGlyphs">2025-12-08 12:00 @ Local Time</text>
<text x="343" y="796" text-anchor="middle" font-size="13.9" class="t" textLength="529" lengthAdjust="spacingAndGlyphs">WRF model data processed and visualized by the RIMES R&amp;D Team. © 2025</text>
</svg>
</body></html>
